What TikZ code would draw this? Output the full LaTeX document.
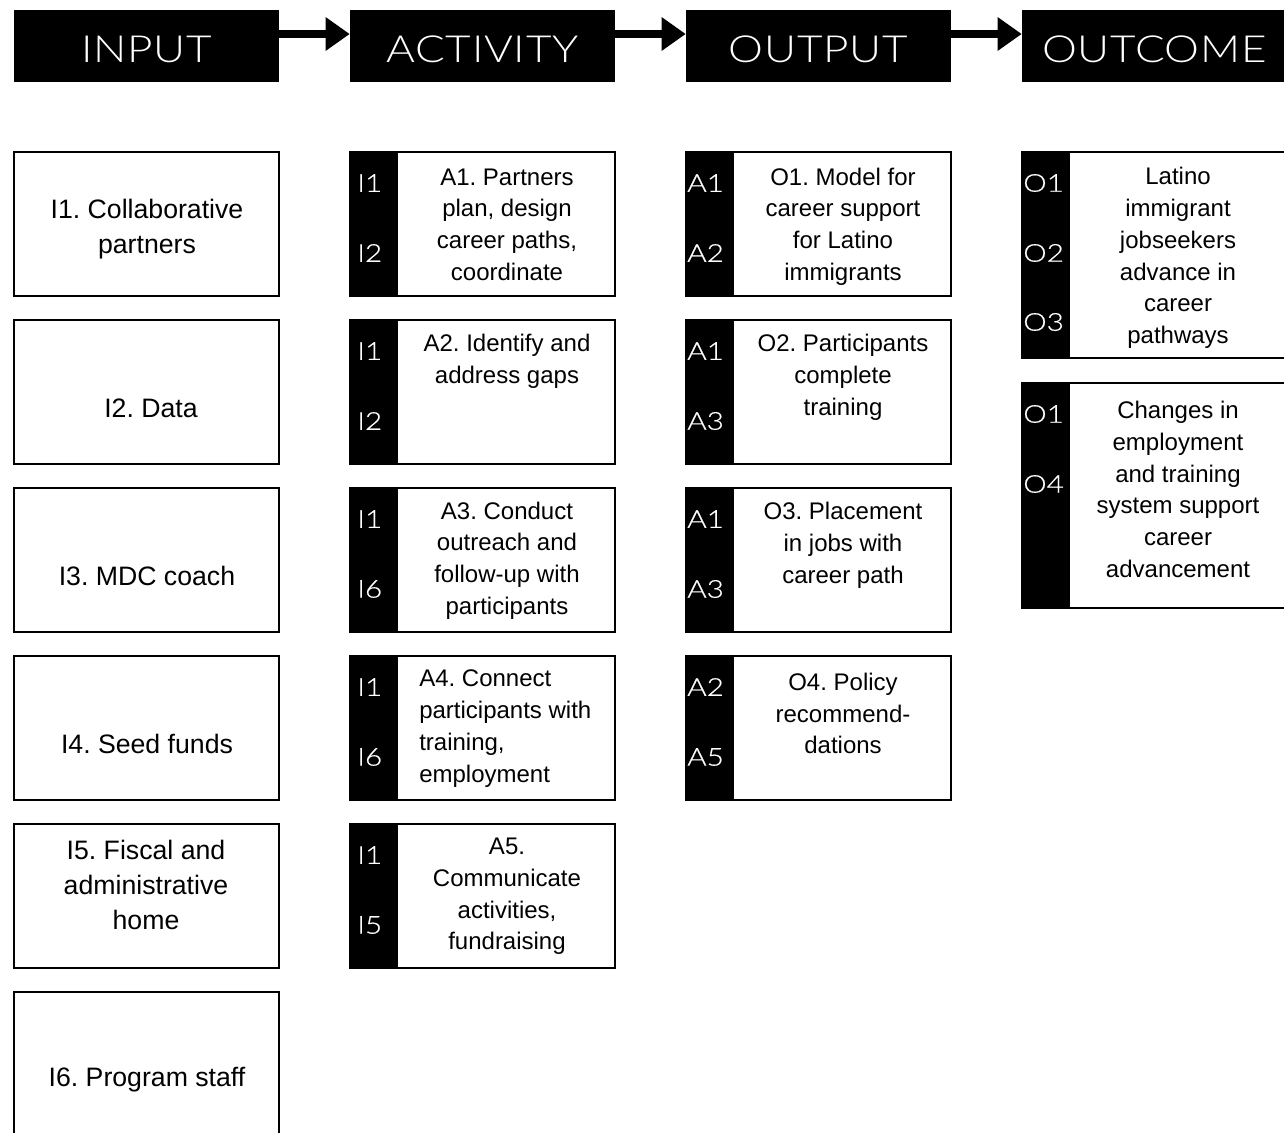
\documentclass[tikz,border=0pt]{standalone}
\usepackage{fontspec}
\setmainfont{Liberation Sans}
\newfontfamily\headfont[FakeStretch=1.18,LetterSpace=2]{Lato Light}
\newfontfamily\tagfont[FakeStretch=1.2,FakeBold=0.6]{Lato Light}
\frenchspacing
\usetikzlibrary{positioning}
\usetikzlibrary{arrows.meta}

\tikzset{
  head/.style={fill=black, text=white, minimum width=198.75pt, minimum height=54pt,
    inner sep=0pt, text height=24.7pt, text depth=0pt, font=\headfont\fontsize{28}{30}\selectfont},
  box/.style={draw, line width=1.1pt, minimum width=198.75pt, minimum height=108pt, inner sep=0pt},
  tag/.style={text=white, anchor=west, inner sep=0pt, font=\tagfont\fontsize{18.5}{20}\selectfont},
  intxt/.style={align=center, inner sep=0pt, font=\fontsize{20}{26.25}\selectfont},
  txt/.style={align=center, inner sep=0pt, font=\fontsize{18}{23.8}\selectfont},
  flow/.style={line width=6pt, -{Triangle[length=18pt,width=24pt]}}
}

\begin{document}
\begin{tikzpicture}[x=0.75pt,y=-0.75pt]
            \useasboundingbox (0,0) rectangle (1284,1132);

            % header
            \node[head] (input) at (146.5,46) {INPUT};
            \node[head] (activity) at (482.5,46) {ACTIVITY};
            \node[head] (output) at (818.5,46) {OUTPUT};
            \node[head] (outcome) at (1154.5,46) {OUTCOME};
            \draw[flow] ([yshift=9pt]input.east) -- ([yshift=9pt]activity.west);
            \draw[flow] ([yshift=9pt]activity.east) -- ([yshift=9pt]output.west);
            \draw[flow] ([yshift=9pt]output.east) -- ([yshift=9pt]outcome.west);

            % inputs
            \node[box] (i1) at (146.5,224) {};
            \node[box] (i2) at (146.5,392) {};
            \node[box] (i3) at (146.5,560) {};
            \node[box] (i4) at (146.5,728) {};
            \node[box] (i5) at (146.5,896) {};
            \node[box] (i6) at (146.5,1064) {};
            \node[intxt] (i1t) at (147,229.5) {I1. Collaborative\\partners};
            \node[intxt] (i2t) at (151,408) {I2. Data};
            \node[intxt] (i3t) at (147,576) {I3. MDC coach};
            \node[intxt] (i4t) at (147,744) {I4. Seed funds};
            \node[intxt] (i5t) at (146,885) {I5. Fiscal and\\administrative\\home};
            \node[intxt] (i6t) at (147,1080) {I6. Program staff};

            % activities
            \node[box] (a1) at (482.5,224) {};
            \node[box] (a2) at (482.5,392) {};
            \node[box] (a3) at (482.5,560) {};
            \node[box] (a4) at (482.5,728) {};
            \node[box] (a5) at (482.5,896) {};
            \fill (a1.north west) rectangle ([xshift=36.75pt]a1.south west);
            \fill (a2.north west) rectangle ([xshift=36.75pt]a2.south west);
            \fill (a3.north west) rectangle ([xshift=36.75pt]a3.south west);
            \fill (a4.north west) rectangle ([xshift=36.75pt]a4.south west);
            \fill (a5.north west) rectangle ([xshift=36.75pt]a5.south west);
            \node[tag] at (357,183) {I1};
            \node[tag] at (357,253) {I2};
            \node[tag] at (357,351) {I1};
            \node[tag] at (357,421) {I2};
            \node[tag] at (357,519) {I1};
            \node[tag] at (357,589) {I6};
            \node[tag] at (357,687) {I1};
            \node[tag] at (357,757) {I6};
            \node[tag] at (357,855) {I1};
            \node[tag] at (357,925) {I5};
            \node[txt] (a1t) at (507,224.5) {A1. Partners\\plan, design\\career paths,\\coordinate};
            \node[txt] (a2t) at (507,361) {A2. Identify and\\address gaps};
            \node[txt] (a3t) at (507,560.5) {A3. Conduct\\outreach and\\follow-up with\\participants};
            \node[txt,align=left,anchor=west] (a4t) at (419,728.5) {A4. Connect\\participants with\\training,\\employment};
            \node[txt] (a5t) at (507,896.5) {A5.\\Communicate\\activities,\\fundraising};

            % outputs
            \node[box] (o1) at (818.5,224) {};
            \node[box] (o2) at (818.5,392) {};
            \node[box] (o3) at (818.5,560) {};
            \node[box] (o4) at (818.5,728) {};
            \fill (o1.north west) rectangle ([xshift=36.75pt]o1.south west);
            \fill (o2.north west) rectangle ([xshift=36.75pt]o2.south west);
            \fill (o3.north west) rectangle ([xshift=36.75pt]o3.south west);
            \fill (o4.north west) rectangle ([xshift=36.75pt]o4.south west);
            \node[tag] at (687,183) {A1};
            \node[tag] at (687,253) {A2};
            \node[tag] at (687,351) {A1};
            \node[tag] at (687,421) {A3};
            \node[tag] at (687,519) {A1};
            \node[tag] at (687,589) {A3};
            \node[tag] at (687,687) {A2};
            \node[tag] at (687,757) {A5};
            \node[txt] (o1t) at (843,226.5) {O1. Model for\\career support\\for Latino\\immigrants};
            \node[txt] (o2t) at (843,377.5) {O2. Participants\\complete\\training};
            \node[txt] (o3t) at (843,545.5) {O3. Placement\\in jobs with\\career path};
            \node[txt] (o4t) at (843,713.5) {O4. Policy\\recommend-\\dations};

            % outcomes
            \node[box,minimum height=154.5pt] (c1) at (1154.5,255) {};
            \node[box,minimum height=168.75pt] (c2) at (1154.5,495.5) {};
            \fill (c1.north west) rectangle ([xshift=36.75pt]c1.south west);
            \fill (c2.north west) rectangle ([xshift=36.75pt]c2.south west);
            \node[tag] at (1023,183) {O1};
            \node[tag] at (1023,253) {O2};
            \node[tag] at (1023,322) {O3};
            \node[tag] at (1023,414) {O1};
            \node[tag] at (1023,484) {O4};
            \node[txt] (c1t) at (1178,258) {Latino\\immigrant\\jobseekers\\advance in\\career\\pathways};
            \node[txt] (c2t) at (1178,489.5) {Changes in\\employment\\and training\\system support\\career\\advancement};
        \end{tikzpicture}
\end{document}
